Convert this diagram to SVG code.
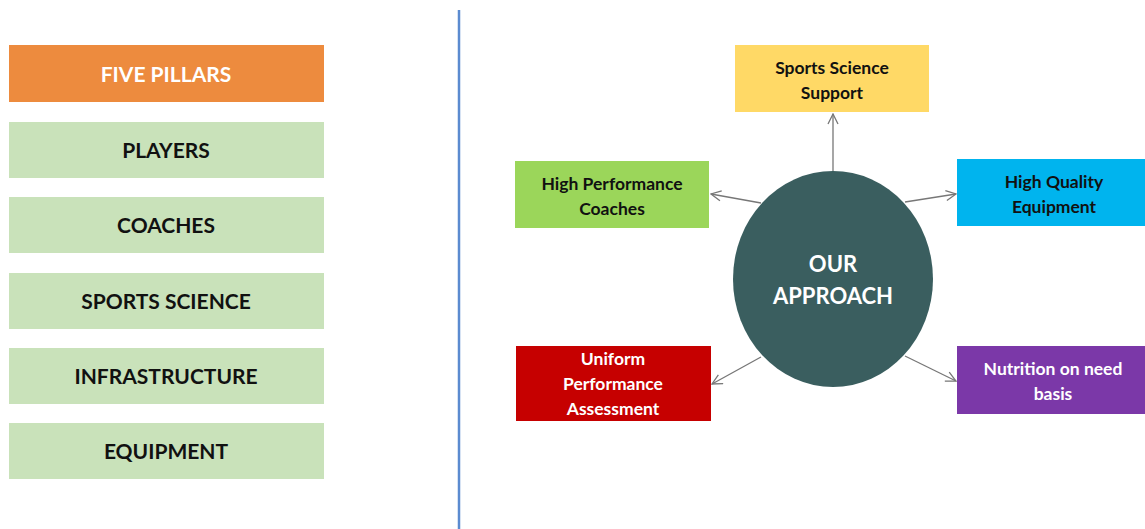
<svg xmlns="http://www.w3.org/2000/svg" width="1145" height="529" viewBox="0 0 1145 529">
<defs>
<style>
.lbl{font-family:Lato,"Liberation Sans",sans-serif;font-weight:bold;text-anchor:middle;dominant-baseline:central}
.pill{fill:#C9E2BA}
.lt{font-size:21px;fill:#111}
.rt{font-size:17.5px}
.dark{fill:#111}
.white{fill:#fff}
.conn{stroke:#777;stroke-width:1.3;fill:none;marker-end:url(#arr)}
</style>
<marker id="arr" viewBox="0 0 12 12" refX="11" refY="6" markerWidth="12" markerHeight="12" markerUnits="userSpaceOnUse" orient="auto">
<path d="M1,1 L11,6 L1,11" fill="none" stroke="#777" stroke-width="1.3"/>
</marker>
</defs>
<rect width="1145" height="529" fill="#fff"/>
<line x1="459" y1="10" x2="459" y2="529" stroke="#5B8BD0" stroke-width="2.5"/>
<g id="five-pillars"><rect x="9" y="45" width="315" height="57" fill="#ED8B3E"/><text class="lbl lt white" x="166" y="73">FIVE PILLARS</text></g>
<g id="players"><rect class="pill" x="9" y="122" width="315" height="56"/><text class="lbl lt" x="166" y="149">PLAYERS</text></g>
<g id="coaches"><rect class="pill" x="9" y="197" width="315" height="56"/><text class="lbl lt" x="166" y="224">COACHES</text></g>
<g id="sports-science"><rect class="pill" x="9" y="273" width="315" height="56"/><text class="lbl lt" x="166" y="300">SPORTS SCIENCE</text></g>
<g id="infrastructure"><rect class="pill" x="9" y="348" width="315" height="56"/><text class="lbl lt" x="166" y="375">INFRASTRUCTURE</text></g>
<g id="equipment"><rect class="pill" x="9" y="423" width="315" height="56"/><text class="lbl lt" x="166" y="450">EQUIPMENT</text></g>
<g id="connectors">
<line class="conn" x1="833" y1="171" x2="833" y2="114"/>
<line class="conn" x1="761" y1="203" x2="711" y2="194"/>
<line class="conn" x1="905" y1="202" x2="956" y2="194"/>
<line class="conn" x1="761" y1="357" x2="712" y2="384"/>
<line class="conn" x1="905" y1="356" x2="956" y2="381"/>
</g>
<g id="our-approach"><ellipse cx="833" cy="279" rx="100" ry="108" fill="#3A5E5F"/><text class="lbl white" font-size="22" x="833" y="263">OUR</text><text class="lbl white" font-size="22" x="833" y="295">APPROACH</text></g>
<g id="sports-science-support"><rect x="735" y="45" width="194" height="67" fill="#FFD966"/><text class="lbl rt dark" x="832" y="67">Sports Science</text><text class="lbl rt dark" x="832" y="92">Support</text></g>
<g id="high-performance-coaches"><rect x="515" y="161" width="194" height="67" fill="#9BD65A"/><text class="lbl rt dark" x="612" y="183">High Performance</text><text class="lbl rt dark" x="612" y="208">Coaches</text></g>
<g id="high-quality-equipment"><rect x="957" y="159" width="188" height="67" fill="#00B4EE"/><text class="lbl rt dark" x="1054" y="181">High Quality</text><text class="lbl rt dark" x="1054" y="206">Equipment</text></g>
<g id="uniform-performance-assessment"><rect x="516" y="346" width="195" height="75" fill="#C60000"/><text class="lbl rt white" x="613" y="358">Uniform</text><text class="lbl rt white" x="613" y="383">Performance</text><text class="lbl rt white" x="613" y="408">Assessment</text></g>
<g id="nutrition"><rect x="957" y="346" width="188" height="68" fill="#7B38A8"/><text class="lbl rt white" x="1053" y="368">Nutrition on need</text><text class="lbl rt white" x="1053" y="393">basis</text></g>
</svg>
